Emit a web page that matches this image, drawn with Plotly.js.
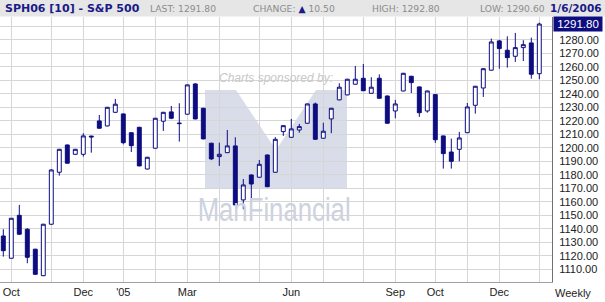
<!DOCTYPE html>
<html>
<head>
<meta charset="utf-8">
<script src="https://cdn.plot.ly/plotly-3.0.1.min.js"></script>
<style>html,body{margin:0;padding:0;background:#fff;}#chart{width:605px;height:302px;}</style>
</head>
<body>
<div id="chart"></div>
<script>
// Weekly bars, SPH06 (S&P 500 March 2006 future)
const weeks = [
 '2004-09-24','2004-10-01','2004-10-08','2004-10-15','2004-10-22','2004-10-29',
 '2004-11-05','2004-11-12','2004-11-19','2004-11-26','2004-12-03','2004-12-10',
 '2004-12-17','2004-12-24','2004-12-31','2005-01-07','2005-01-14','2005-01-21',
 '2005-01-28','2005-02-04','2005-02-11','2005-02-18','2005-02-25','2005-03-04',
 '2005-03-11','2005-03-18','2005-03-25','2005-04-01','2005-04-08','2005-04-15',
 '2005-04-22','2005-04-29','2005-05-06','2005-05-13','2005-05-20','2005-05-27',
 '2005-06-03','2005-06-10','2005-06-17','2005-06-24','2005-07-01','2005-07-08',
 '2005-07-15','2005-07-22','2005-07-29','2005-08-05','2005-08-12','2005-08-19',
 '2005-08-26','2005-09-02','2005-09-09','2005-09-16','2005-09-23','2005-09-30',
 '2005-10-07','2005-10-14','2005-10-21','2005-10-28','2005-11-04','2005-11-11',
 '2005-11-18','2005-11-25','2005-12-02','2005-12-09','2005-12-16','2005-12-23',
 '2005-12-30','2006-01-06'
];
const opens = [
 1134.8,1118.3,1150.1,1139.8,1125.0,1105.4,
 1143.5,1182.0,1202.2,1195.3,1195.3,1208.8,
 1220.0,1216.3,1226.4,1225.2,1211.3,1215.3,
 1184.4,1199.8,1219.8,1226.7,1218.0,1225.0,
 1247.4,1229.4,1203.5,1193.6,1196.5,1201.5,
 1161.5,1180.0,1178.3,1194.8,1182.0,1212.1,
 1207.9,1213.3,1218.3,1232.6,1207.2,1221.5,
 1235.6,1239.3,1247.2,1251.6,1240.5,1251.6,
 1238.5,1227.4,1242.2,1253.1,1245.2,1227.4,
 1239.5,1208.9,1197.0,1199.0,1211.3,1231.6,
 1244.4,1257.6,1279.3,1272.4,1267.9,1274.3,
 1277.8,1255.0
];
const highs = [
 1139.8,1148.0,1157.8,1140.5,1125.3,1143.8,
 1184.0,1199.3,1202.5,1199.3,1210.9,1209.0,
 1224.4,1230.4,1236.3,1225.5,1211.6,1215.6,
 1193.4,1222.3,1226.7,1231.1,1233.1,1247.0,
 1248.0,1229.7,1203.8,1203.9,1213.3,1207.9,
 1177.0,1180.3,1191.1,1195.1,1208.0,1216.8,
 1221.5,1217.8,1232.9,1233.6,1218.7,1229.7,
 1247.9,1251.2,1260.7,1262.2,1252.4,1254.5,
 1238.8,1235.6,1255.6,1253.4,1245.5,1242.5,
 1239.8,1209.2,1206.9,1211.9,1233.3,1246.0,
 1259.0,1281.0,1280.0,1282.7,1285.2,1279.8,
 1281.7,1292.8
];
const lows = [
 1119.5,1118.0,1135.5,1114.6,1106.0,1105.0,
 1143.0,1179.5,1188.4,1195.0,1193.6,1196.5,
 1214.3,1216.0,1226.0,1202.7,1197.0,1186.4,
 1184.1,1199.5,1212.6,1221.3,1204.7,1224.7,
 1221.2,1206.4,1191.0,1186.7,1196.2,1157.5,
 1154.6,1158.5,1178.0,1171.0,1181.7,1208.9,
 1207.6,1211.3,1218.0,1206.1,1206.9,1210.9,
 1235.3,1239.0,1246.9,1242.1,1240.2,1236.5,
 1218.0,1222.0,1241.9,1240.7,1223.0,1226.1,
 1203.7,1184.7,1184.7,1190.1,1211.0,1225.4,
 1237.8,1257.3,1258.7,1259.5,1263.7,1264.4,
 1251.3,1250.9
];
const closes = [
 1123.9,1147.9,1136.1,1119.0,1106.4,1143.5,
 1183.7,1199.0,1188.7,1199.0,1208.9,1208.2,
 1214.6,1230.1,1232.4,1203.9,1201.7,1186.7,
 1193.1,1222.0,1226.4,1222.0,1218.3,1246.7,
 1221.5,1206.7,1191.9,1195.3,1201.5,1157.8,
 1172.6,1173.3,1187.9,1171.3,1206.4,1216.5,
 1214.1,1215.8,1232.6,1206.4,1212.4,1229.4,
 1245.0,1250.9,1250.9,1242.4,1245.0,1236.8,
 1218.3,1232.6,1255.3,1248.4,1226.1,1242.2,
 1206.1,1195.8,1190.1,1207.4,1230.4,1245.7,
 1258.7,1278.5,1273.6,1266.9,1274.3,1276.5,
 1254.6,1291.8
];
const monthTicks = [
 '2004-10-01','2004-11-05','2004-12-03','2005-01-07','2005-02-04','2005-03-04',
 '2005-04-01','2005-05-06','2005-06-03','2005-07-01','2005-08-05','2005-09-02',
 '2005-10-07','2005-11-04','2005-12-02','2006-01-06'
];
const monthLabels = ['Oct','','Dec',"'05",'','Mar','','','Jun','','','Sep','Oct','','Dec',''];
const priceTicks = [1110,1120,1130,1140,1150,1160,1170,1180,1190,1200,1210,1220,1230,1240,1250,1260,1270,1280,1290];
const priceLabels = ['1110.00','1120.00','1130.00','1140.00','1150.00','1160.00','1170.00','1180.00','1190.00','1200.00',
  '1210.00','1220.00','1230.00','1240.00','1250.00','1260.00','1270.00','1280.00',''];

const title = 'SPH06 [10] - S&P 500';
const lastTxt = 'LAST: 1291.80';
const changeVal = '10.50';
const highTxt = 'HIGH: 1292.80';
const lowTxt = 'LOW: 1290.60';
const dateTxt = '1/6/2006';
const lastPrice = '1291.80';

const NAVY = '#0d0d80';
const W = 552, T = 17, B = 282, H = B - T;
const px = v => v / W;
const py = v => (B - v) / H;

const trace = {
  type: 'candlestick',
  x: weeks, open: opens, high: highs, low: lows, close: closes,
  increasing: {line: {color: NAVY, width: 1}, fillcolor: '#ffffff'},
  decreasing: {line: {color: NAVY, width: 1}, fillcolor: NAVY},
  whiskerwidth: 0,
  hoverinfo: 'skip'
};

const lbl = {family: 'Liberation Sans, Arial, sans-serif', size: 11, color: '#222'};
const hdrGrey = {family: 'DejaVu Sans, Verdana, sans-serif', size: 9.2, color: '#8c8c8c'};
const hdrTitle = {family: 'DejaVu Sans, Verdana, sans-serif', size: 11, color: '#1a1a88', weight: 'bold'};
const hdrDate = {family: 'DejaVu Sans, Verdana, sans-serif', size: 10.5, color: '#1a1a88', weight: 'bold'};

const logoPath = (pts) => 'M ' + pts.map(p => px(p[0]) + ',' + py(p[1])).join(' L ') + ' Z';

const layout = {
  width: 605, height: 302,
  margin: {l: 0, r: 605 - W, t: T, b: 302 - B, pad: 0},
  paper_bgcolor: '#ffffff', plot_bgcolor: '#ffffff',
  showlegend: false,
  xaxis: {
    type: 'date',
    range: ['2004-09-21 02:40', '2006-01-17 02:40'],
    rangeslider: {visible: false},
    tickmode: 'array', tickvals: monthTicks, ticktext: monthLabels,
    showgrid: true, gridcolor: '#d6d6d6', gridwidth: 1,
    showline: true, linecolor: '#a0a0a0', linewidth: 1,
    ticks: '', tickfont: lbl, zeroline: false, fixedrange: true
  },
  yaxis: {
    side: 'right', range: [1100.7, 1297.0],
    tickmode: 'array', tickvals: priceTicks, ticktext: priceLabels,
    showgrid: true, gridcolor: '#d6d6d6', gridwidth: 1,
    showline: true, linecolor: '#707070', linewidth: 1, mirror: false,
    ticks: 'outside', ticklen: 4, tickcolor: 'rgba(0,0,0,0)',
    tickfont: lbl, zeroline: false, fixedrange: true
  },
  shapes: [
    {type: 'rect', xref: 'paper', yref: 'paper', x0: px(-2), x1: px(607), y0: py(16.5), y1: py(-1),
     fillcolor: '#e6e6e6', line: {width: 0}, layer: 'above'},
    {type: 'path', xref: 'paper', yref: 'paper', layer: 'below', fillcolor: '#d9dde9', line: {width: 0},
     path: logoPath([[205,90],[236,90],[276,150],[316,90],[347,90],[347,189],[205,189]])}
  ],
  annotations: [
    {xref: 'paper', yref: 'paper', x: px(276), y: py(78.3), xanchor: 'center', yanchor: 'middle', showarrow: false,
     text: '<i>Charts sponsored by:</i>', font: {family: 'Liberation Sans, Arial, sans-serif', size: 12, color: '#c8c8c8'}},
    {xref: 'paper', yref: 'paper', x: px(274), y: py(209), xanchor: 'center', yanchor: 'middle', showarrow: false,
     text: 'ManFinancial', font: {family: 'Liberation Sans, Arial, sans-serif', size: 33, color: '#cdd2de'}},
    {xref: 'paper', yref: 'paper', x: px(3), y: py(8.5), xanchor: 'left', yanchor: 'middle', showarrow: false,
     text: '<b>' + title + '</b>', font: hdrTitle},
    {xref: 'paper', yref: 'paper', x: px(148), y: py(8.5), xanchor: 'left', yanchor: 'middle', showarrow: false,
     text: lastTxt, font: hdrGrey},
    {xref: 'paper', yref: 'paper', x: px(251), y: py(8.5), xanchor: 'left', yanchor: 'middle', showarrow: false,
     text: 'CHANGE: <span style="color:#1a1a88">▲</span> ' + changeVal, font: hdrGrey},
    {xref: 'paper', yref: 'paper', x: px(370), y: py(8.5), xanchor: 'left', yanchor: 'middle', showarrow: false,
     text: highTxt, font: hdrGrey},
    {xref: 'paper', yref: 'paper', x: px(478), y: py(8.5), xanchor: 'left', yanchor: 'middle', showarrow: false,
     text: lowTxt, font: hdrGrey},
    {xref: 'paper', yref: 'paper', x: px(604), y: py(8.5), xanchor: 'right', yanchor: 'middle', showarrow: false,
     text: '<b>' + dateTxt + '</b>', font: hdrDate},
    {xref: 'paper', yref: 'y', x: px(553), y: parseFloat(lastPrice), xanchor: 'left', yanchor: 'middle', showarrow: false,
     text: lastPrice, font: {family: 'Liberation Sans, Arial, sans-serif', size: 11.5, color: '#ffffff'},
     bgcolor: NAVY, borderpad: 1, width: 46, align: 'center'},
    {xref: 'paper', yref: 'paper', x: px(573), y: py(293), xanchor: 'center', yanchor: 'middle', showarrow: false,
     text: 'Weekly', font: lbl}
  ]
};

Plotly.newPlot('chart', [trace], layout, {staticPlot: true, displayModeBar: false}).then(() => {
  // narrow the watermark brand text to the condensed look of the original
  document.querySelectorAll('#chart .annotation-text').forEach(t => {
    if (t.textContent === 'ManFinancial') {
      t.setAttribute('textLength', '153');
      t.setAttribute('lengthAdjust', 'spacingAndGlyphs');
    }
  });
});
</script>
</body>
</html>
